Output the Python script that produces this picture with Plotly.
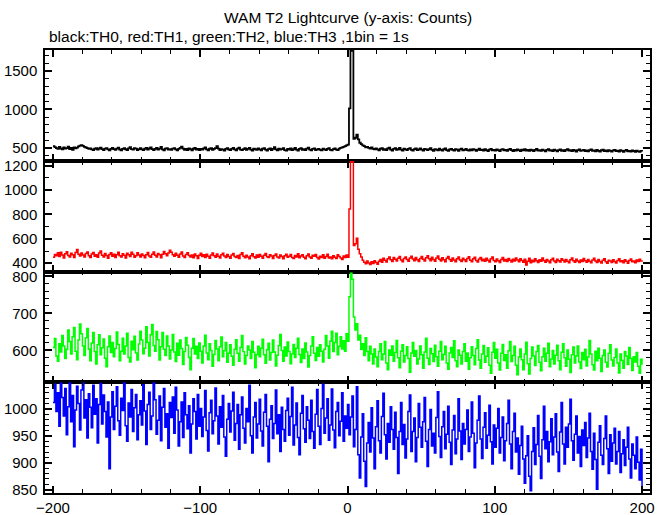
import numpy as np
import plotly.graph_objects as go
from plotly.subplots import make_subplots

# time bins (1 s) from -200 s
t_start = -200

# TH0 (black) counts, rows of 20 bins starting at -200, -180, ...
th0 = [
    522,508,494,486,512,490,478,503,488,496,514,482,497,472,505,492,501,518,528,534,
    524,512,503,494,485,492,479,468,487,495,476,490,502,481,470,488,495,478,466,484,
    497,483,471,489,501,477,465,486,493,480,470,492,507,483,474,496,488,470,482,494,
    479,468,487,499,476,490,504,482,469,485,497,474,488,510,478,466,489,493,475,483,
    471,488,496,479,467,484,498,515,489,473,485,470,492,481,466,487,499,476,484,469,
    486,474,490,503,478,465,487,495,472,484,496,521,488,470,483,475,462,486,493,477,
    469,485,497,479,467,489,501,476,468,482,494,471,486,499,475,463,488,480,472,490,
    478,466,487,496,474,461,483,492,470,485,508,479,467,489,474,481,493,470,464,486,
    475,490,468,480,497,474,462,485,493,471,483,469,488,500,476,465,484,491,470,478,
    486,472,465,488,479,469,484,495,473,466,482,490,475,470,488,497,505,512,520,530,
    540,1015,1776,1765,615,630,672,610,565,548,532,520,505,512,498,490,503,486,478,492,
    478,465,487,496,473,482,469,490,502,476,464,485,493,471,480,497,474,462,488,479,
    470,484,495,472,461,483,490,468,477,492,474,463,486,478,469,481,494,472,460,482,
    476,465,488,473,462,480,491,469,458,477,486,471,464,482,474,460,479,488,466,473,
    485,470,461,477,466,483,474,459,472,489,468,475,462,481,470,457,476,484,467,472,
    461,478,469,455,474,482,465,471,459,476,486,468,457,473,464,479,470,456,475,466,
    480,462,471,458,476,467,455,473,484,463,470,459,475,466,452,471,480,461,468,457,
    474,465,453,470,479,460,467,456,472,481,462,469,455,473,464,451,468,477,459,466,
    472,457,465,452,469,478,458,466,454,471,460,449,467,475,456,464,452,468,459,448,
    466,473,455,462,450,468,458,446,463,471,454,460,449,465,457,447,462,453,445,458,
    452,
]

# TH1 (red)
th1 = [
    448,472,461,485,456,490,468,443,477,495,463,452,481,470,446,488,512,474,459,483,
    467,451,479,493,462,446,475,488,457,470,449,484,500,466,452,479,463,441,472,486,
    458,474,447,469,491,462,450,477,465,443,482,470,455,489,473,448,461,485,467,452,
    476,463,444,470,487,459,448,474,492,466,452,480,469,445,473,497,478,461,484,506,
    489,470,457,482,465,449,475,493,460,447,471,485,463,451,468,444,476,462,438,466,
    481,455,469,446,473,458,440,467,484,462,449,475,457,443,470,481,460,446,472,455,
    441,468,479,456,447,463,439,471,485,458,444,466,452,437,462,477,454,443,468,449,
    472,458,441,465,480,453,446,470,459,438,463,476,451,442,467,455,436,461,474,449,
    457,471,446,439,463,452,478,444,459,470,448,436,462,475,451,440,466,457,472,446,
    435,458,447,469,441,456,474,443,452,437,462,449,438,470,455,443,431,460,447,468,
    448,845,1238,1232,545,560,605,515,478,452,425,408,396,418,402,389,411,398,420,405,
    392,417,430,408,441,425,410,437,452,429,415,446,433,418,440,456,427,412,438,450,
    431,416,443,458,434,420,447,429,414,439,455,432,419,444,462,436,421,448,430,417,
    442,459,433,418,445,428,413,440,456,431,417,443,427,411,437,452,426,414,441,429,
    415,438,454,425,411,436,449,422,409,434,447,421,432,416,440,425,410,437,451,423,
    412,435,420,406,431,446,419,430,414,438,424,409,433,418,443,427,411,436,422,408,
    432,385,417,440,403,425,411,437,420,405,429,416,442,423,408,431,418,404,428,441,
    419,406,433,421,409,437,424,410,430,417,403,428,442,420,407,432,419,405,426,414,
    438,421,408,431,417,403,427,440,418,406,430,415,402,425,436,413,400,424,418,405,
    429,414,401,423,437,412,420,404,428,416,400,422,435,411,419,403,426,414,432,418,
    412,
]

# TH2 (green)
th2 = [
    608,632,585,571,618,596,640,612,578,603,655,624,590,637,662,598,575,628,671,645,
    612,586,634,659,603,572,620,648,597,563,615,642,588,607,631,579,556,610,639,594,
    621,583,605,650,616,572,598,633,590,612,646,581,569,625,602,638,593,574,617,652,
    628,591,606,664,621,585,642,670,613,598,651,629,574,610,648,603,586,639,612,577,
    601,643,596,570,619,587,628,605,562,597,635,614,581,548,606,632,590,611,578,620,
    598,566,612,641,593,575,618,600,557,589,627,604,572,610,636,583,599,621,568,592,
    615,584,560,603,629,592,571,608,640,597,563,586,612,601,578,624,595,553,589,611,
    583,606,630,588,565,602,619,574,594,628,596,558,587,613,643,600,571,609,585,623,
    597,564,590,616,581,606,633,589,567,604,578,620,596,555,586,612,637,592,573,608,
    584,615,598,569,603,640,612,579,625,652,597,621,646,588,611,637,604,626,598,645,
    625,745,808,792,690,655,672,628,641,603,618,586,634,597,572,611,590,563,604,582,
    556,597,618,575,590,624,566,548,601,587,612,571,594,627,580,553,598,615,569,586,
    610,578,541,593,621,584,600,563,577,612,588,552,596,633,579,562,605,591,570,614,
    583,557,598,624,575,589,611,566,549,593,608,581,626,572,556,601,587,563,597,618,
    571,593,549,580,610,586,561,605,629,574,552,590,613,568,584,607,560,538,595,621,
    579,603,566,547,592,616,573,588,552,599,624,570,586,611,560,534,582,604,575,548,
    590,622,564,536,578,609,585,559,597,613,568,545,583,606,571,592,619,556,577,600,
    563,587,614,572,548,595,618,580,557,601,576,540,588,609,566,585,612,569,551,594,
    575,603,558,582,627,590,561,547,598,572,606,579,543,586,601,568,555,592,615,574,
    558,581,604,566,539,590,573,552,597,585,562,608,578,546,583,569,594,557,538,576,
    561,
]

# TH3 (blue)
th3 = [
    1012,1046,995,1030,968,1050,1021,987,1038,952,1004,1049,976,1025,930,998,1042,1010,961,1035,
    1050,983,1017,946,1028,1003,965,1044,990,1019,937,1008,1047,972,1026,995,948,1013,889,985,
    1032,962,1005,1041,978,951,1020,997,1050,969,940,1011,985,1036,958,1002,1027,943,989,1015,
    970,1045,996,934,1008,1031,962,987,1050,1017,953,979,1024,941,1003,1038,966,991,927,1012,
    984,1022,955,1040,998,931,976,1013,947,1030,989,963,1006,918,972,1019,995,944,1027,968,
    1001,949,985,1034,960,922,993,1016,954,978,1039,987,935,1004,966,1025,948,912,981,1010,
    957,996,1031,942,973,1008,925,989,1022,964,937,1001,976,1044,950,918,985,1012,946,972,
    1018,959,931,994,1027,968,902,981,1006,945,973,1035,954,989,921,1003,962,940,997,1020,
    951,986,1040,933,970,1011,947,915,992,1025,963,938,1004,979,945,1016,958,927,990,1036,
    968,934,1001,1046,955,983,1019,942,970,1037,961,928,995,1012,950,977,1030,940,987,964,
    1008,952,985,1024,930,962,1041,915,872,948,991,903,856,937,975,920,1002,946,889,967,
    1015,941,918,986,1029,952,907,973,938,1004,962,925,994,947,880,958,1012,934,971,909,
    944,995,1026,921,958,983,902,947,1010,966,929,976,1021,940,893,962,999,931,955,918,
    984,1032,949,910,967,995,926,953,1005,938,897,961,988,917,944,1019,959,906,973,935,
    962,998,921,948,1013,955,891,937,979,1024,944,908,966,993,927,951,1007,939,898,970,
    929,964,1001,918,947,985,904,941,973,1016,935,889,958,992,920,946,879,932,968,907,
    862,913,950,875,848,921,965,897,934,988,912,871,943,1005,926,958,902,939,982,915,
    948,991,920,884,957,1012,935,898,966,929,972,1018,941,905,953,987,918,949,893,961,
    932,975,910,946,992,921,888,955,906,851,938,969,914,897,945,987,926,880,952,903,
    937,964,898,921,958,882,917,943,895,929,966,907,872,935,914,889,948,901,868,925,
    847,
]

series = [th0, th1, th2, th3]
colors = ["#000000", "#ff0000", "#00ff00", "#0000ff"]
widths = [1.8, 1.5, 1.5, 1.5]
y_ranges = [[330, 1776], [332, 1241], [514, 813], [844, 1049.5]]
y_dticks = [500, 200, 100, 50]
y_minor = [100, 100, 20, 10]
x_range = [-205.4, 205.4]

FONT = "Liberation Sans, Arial, Helvetica, sans-serif"

fig = make_subplots(rows=4, cols=1, shared_xaxes=True, vertical_spacing=0)

for i, (vals, col, w) in enumerate(zip(series, colors, widths)):
    t = np.arange(len(vals)) + t_start
    fig.add_trace(go.Scatter(x=t, y=vals, mode="lines", line=dict(color=col, width=w, shape="hv"),
                             showlegend=False, hoverinfo="skip"), row=i + 1, col=1)

for i in range(4):
    r = i + 1
    fig.update_xaxes(range=x_range, showline=True, linecolor="black", linewidth=1.5, mirror="allticks",
                     ticks="inside", ticklen=7, tickwidth=1.5, tickcolor="black", tick0=0, dtick=100,
                     minor=dict(dtick=20, ticks="inside", ticklen=4, tickwidth=1, tickcolor="black"),
                     showgrid=False, zeroline=False, showticklabels=(r == 4), automargin=False,
                     tickfont=dict(family=FONT, size=15, color="black"), row=r, col=1)
    fig.update_yaxes(range=y_ranges[i], showline=True, linecolor="black", linewidth=1.5, mirror="allticks",
                     ticks="inside", ticklen=7, tickwidth=1.5, tickcolor="black", tick0=0, dtick=y_dticks[i],
                     minor=dict(dtick=y_minor[i], ticks="inside", ticklen=4, tickwidth=1, tickcolor="black"),
                     showgrid=False, zeroline=False, ticklabelstandoff=3, automargin=False,
                     tickfont=dict(family=FONT, size=15, color="black"), row=r, col=1)

fig.update_layout(
    width=669, height=515,
    margin=dict(l=45, r=19, t=50, b=22),
    paper_bgcolor="white", plot_bgcolor="white",
    hovermode=False,
    annotations=[
        dict(text="WAM T2 Lightcurve (y-axis: Counts)", xref="paper", yref="paper",
             x=0.5, y=1 + (50 - 17) / 443, xanchor="center", yanchor="middle", showarrow=False,
             font=dict(family=FONT, size=15.5, color="black")),
        dict(text="black:TH0, red:TH1, green:TH2, blue:TH3 ,1bin = 1s", xref="paper", yref="paper",
             x=(47 - 45) / 605, y=1 + (50 - 36) / 443, xanchor="left", yanchor="middle", showarrow=False,
             font=dict(family=FONT, size=15.5, color="black")),
    ],
)

fig.write_html("out.html", config={"displayModeBar": False},
               post_script="document.body.style.margin='0';document.body.style.overflow='hidden';")
